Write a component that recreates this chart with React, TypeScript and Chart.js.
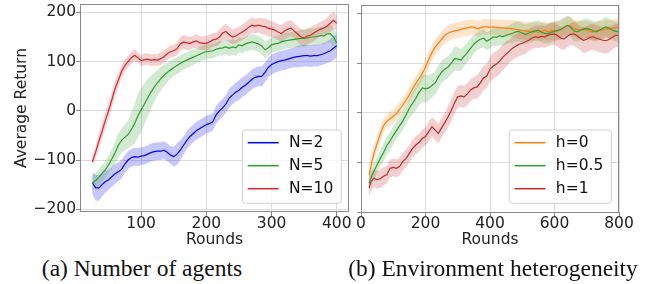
import React, { useEffect, useRef } from "react";
import { Chart, registerables } from "chart.js";
Chart.register(...registerables);

const FONT = "'DejaVu Sans', sans-serif";

// ---------- Left panel: number of agents ----------
const LEFT_ROUNDS = [25,30,35,40,45,50,55,60,65,70,75,80,85,90,95,100,105,110,115,120,125,130,135,140,145,150,155,160,165,170,175,180,185,190,195,200,205,210,215,220,225,230,235,240,245,250,255,260,265,270,275,280,285,290,295,300,305,310,315,320,325,330,335,340,345,350,355,360,365,370,375,380,385,390,395,400];

const N2_MEAN = [-146,-156,-157,-150,-144,-140,-134,-128,-124,-119,
  -108,-100,-95,-93,-94,-92,-91,-88,-85,-83,
  -82,-82,-80,-84,-90,-93,-88,-80,-70,-60,
  -52,-46,-40,-36,-32,-28,-26,-22,-8,0,
  6,14,26,32,38,42,48,52,58,64,
  68,70,70,78,88,94,97,100,102,103,
  105,107,109,110,111,112,112,111,112,112,
  114,116,119,122,127,132];
const N2_SPREAD = [22,26,26,24,22,20,20,20,19,19,
  18,18,18,18,18,18,18,18,18,18,
  18,18,18,18,18,20,22,20,18,18,
  18,18,18,18,18,18,18,18,18,18,
  18,18,19,19,19,20,20,20,20,20,
  20,20,20,20,20,20,20,20,20,20,
  20,20,20,22,22,22,22,22,22,22,
  22,22,22,23,24,24];

const N5_MEAN = [-147,-142,-135,-127,-120,-110,-98,-85,-70,-60,
  -54,-48,-38,-26,-10,2,14,26,38,48,
  57,65,72,78,83,88,92,96,100,103,
  106,109,112,115,118,120,121,122,125,127,
  128,130,127,130,128,134,132,136,138,140,
  138,136,132,124,128,134,136,137,140,142,
  143,144,145,146,147,147,148,150,150,151,
  153,152,156,157,150,138];
const N5_SPREAD = [14,15,16,17,18,18,20,22,24,25,
  26,28,34,40,44,45,42,38,34,30,
  26,24,22,20,18,18,17,17,16,16,
  16,16,15,15,15,15,15,15,15,15,
  15,15,16,16,16,15,15,15,16,16,
  16,16,17,17,16,16,16,16,16,16,
  16,16,16,17,17,17,17,17,18,18,
  18,18,18,18,18,18];

const N10_MEAN = [-104,-85,-62,-42,-20,0,22,45,62,80,
  92,100,108,113,108,102,104,105,103,104,
  103,106,110,116,120,122,126,136,140,138,
  137,140,142,138,137,137,140,144,145,150,
  158,161,155,150,152,156,160,164,170,174,
  172,174,172,171,168,166,164,160,157,162,
  166,168,162,156,150,148,152,154,158,162,
  166,168,172,178,184,178];
const N10_SPREAD = [10,12,14,15,16,16,16,15,14,13,
  12,12,12,12,11,11,12,12,12,12,
  12,13,13,12,12,12,13,14,14,14,
  13,13,14,14,14,15,15,14,14,15,
  15,16,16,15,15,15,16,16,16,16,
  15,15,16,17,17,16,16,16,17,17,
  17,16,16,16,17,17,16,16,16,15,
  15,16,17,18,17,16];

const LEFT_X_TICKS = [100, 200, 300, 400];
const Y_TICKS = [-200, -100, 0, 100, 200];

// ---------- Right panel: environment heterogeneity ----------
const RIGHT_ROUNDS = [25,30,40,50,60,70,80,90,100,110,120,130,140,150,160,170,180,190,200,210,220,230,240,250,260,270,280,290,300,310,320,330,340,350,360,370,380,390,400,410,420,430,440,450,460,470,480,490,500,510,520,530,540,550,560,570,580,590,600,610,620,630,640,650,660,670,680,690,700,710,720,730,740,750,760,770,780,790,800];

const H0_MEAN = [-125,
  -110,-82,-62,-42,-26,-17,-12,-7,-2,7,
  16,26,36,48,59,69,79,92,107,121,
  132,140,148,156,160,163,165,166,168,170,
  171,173,172,169,171,173,173,172,173,172,
  171,171,170,170,169,168,167,166,165,164,
  163,164,162,164,166,163,165,166,165,168,
  172,176,175,170,168,166,168,167,164,163,
  165,167,166,170,168,170,172,173];
const H0_SPREAD = [20,
  18,16,15,15,14,14,14,14,14,14,
  14,14,14,15,15,15,15,15,16,16,
  16,16,16,16,16,16,16,16,16,16,
  16,16,16,16,16,16,16,16,16,16,
  17,17,17,17,18,18,18,18,18,18,
  18,18,18,18,18,18,18,18,18,18,
  18,18,18,18,18,18,18,18,18,18,
  18,18,18,18,18,18,18,20];

const H05_MEAN = [-142,
  -133,-118,-105,-92,-80,-66,-57,-46,-36,-26,
  -16,-4,9,19,29,41,50,48,50,55,
  60,72,82,88,92,100,109,108,106,114,
  121,130,138,144,148,150,144,148,153,152,
  155,153,156,158,160,163,164,160,158,160,
  163,165,166,162,160,159,162,164,166,168,
  172,176,172,165,163,166,169,170,168,165,
  163,166,170,173,170,166,164,163];
const H05_SPREAD = [16,
  16,16,16,16,18,18,18,18,18,18,
  18,18,20,22,24,26,28,28,26,24,
  24,24,22,22,22,22,24,24,22,20,
  20,20,18,18,18,18,18,18,18,18,
  18,18,18,18,20,20,20,20,20,20,
  20,20,20,20,20,20,20,20,20,20,
  20,20,20,20,20,20,20,20,20,20,
  20,20,20,20,20,20,20,20];

const H1_MEAN = [-152,
  -140,-132,-135,-133,-128,-125,-112,-110,-112,-108,
  -98,-92,-82,-72,-65,-60,-52,-48,-38,-28,
  -35,-42,-30,-20,-8,5,20,32,34,32,
  38,46,50,52,60,70,74,88,94,98,
  104,112,118,124,130,134,138,140,143,146,
  150,153,152,154,153,156,158,159,155,150,
  149,154,158,159,155,150,146,148,152,153,
  150,148,146,145,148,152,156,155];
const H1_SPREAD = [18,
  18,18,18,18,18,18,18,18,18,18,
  18,18,18,18,18,18,18,18,20,20,
  20,20,20,20,22,22,22,22,22,22,
  22,22,22,24,24,24,24,25,26,26,
  26,26,26,24,24,24,24,24,24,22,
  22,22,22,22,22,22,22,22,22,22,
  22,22,22,24,24,24,26,26,26,26,
  26,26,26,26,26,24,24,22];

const RIGHT_X_TICKS = [0, 200, 400, 600, 800];

// ---------- helpers ----------
const fmt = (v: number) => String(v).replace("-", "\u2212");

function pts(xs: number[], ys: number[]) {
  return xs.map((x, i) => ({ x, y: ys[i] }));
}

type Series = { label: string; color: string; fill: string; mean: number[]; spread: number[] };

function buildDatasets(xs: number[], series: Series[]) {
  const bands: any[] = [];
  const lines: any[] = [];
  const n = series.length;
  series.forEach((s, k) => {
    const upper = s.mean.map((m, i) => m + s.spread[i]);
    const lower = s.mean.map((m, i) => m - s.spread[i]);
    bands.push({
      data: pts(xs, upper), borderWidth: 0, pointRadius: 0, fill: "+1",
      backgroundColor: s.fill, borderColor: "rgba(0,0,0,0)", order: 10 + (n - k),
    });
    bands.push({
      data: pts(xs, lower), borderWidth: 0, pointRadius: 0, fill: false,
      borderColor: "rgba(0,0,0,0)", order: 10 + (n - k),
    });
    lines.push({
      label: s.label, data: pts(xs, s.mean), borderColor: s.color, borderWidth: 1.2,
      pointRadius: 0, fill: false, order: n - k,
    });
  });
  return [...bands, ...lines];
}

const framePlugin = {
  id: "frame",
  afterDatasetsDraw(chart: any) {
    const { ctx, chartArea: a } = chart;
    ctx.save();
    ctx.strokeStyle = "#8a8a8a";
    ctx.lineWidth = 1;
    ctx.strokeRect(Math.round(a.left) + 0.5, Math.round(a.top) + 0.5, Math.round(a.right - a.left) - 1, Math.round(a.bottom - a.top) - 1);
    ctx.restore();
  },
};

const boxLegendPlugin = {
  id: "boxLegend",
  afterDraw(chart: any, _args: any, opts: any) {
    const items = opts.items as { label: string; color: string }[];
    if (!items) return;
    const { ctx, chartArea: a } = chart;
    ctx.save();
    ctx.font = `15.5px ${FONT}`;
    const tw = Math.max(...items.map((i) => ctx.measureText(i.label).width));
    const w = 46.6 + tw + 8;
    const h = 73.3;
    const right = a.right - 7.7;
    const bottom = a.bottom - 8.7;
    const left = right - w;
    const top = bottom - h;
    const r = 3;
    ctx.beginPath();
    ctx.moveTo(left + r, top);
    ctx.lineTo(right - r, top);
    ctx.quadraticCurveTo(right, top, right, top + r);
    ctx.lineTo(right, bottom - r);
    ctx.quadraticCurveTo(right, bottom, right - r, bottom);
    ctx.lineTo(left + r, bottom);
    ctx.quadraticCurveTo(left, bottom, left, bottom - r);
    ctx.lineTo(left, top + r);
    ctx.quadraticCurveTo(left, top, left + r, top);
    ctx.closePath();
    ctx.fillStyle = "rgba(255,255,255,0.8)";
    ctx.fill();
    ctx.strokeStyle = "#d0d0d0";
    ctx.lineWidth = 1;
    ctx.stroke();
    items.forEach((it, i) => {
      const y = top + 12.7 + i * 23;
      ctx.beginPath();
      ctx.strokeStyle = it.color;
      ctx.lineWidth = 1.5;
      ctx.moveTo(left + 5.3, y);
      ctx.lineTo(left + 36.3, y);
      ctx.stroke();
      ctx.fillStyle = "#111";
      ctx.textBaseline = "middle";
      ctx.textAlign = "left";
      ctx.fillText(it.label, left + 46.6, y + 0.5);
    });
    ctx.restore();
  },
};

function zeroPad(s: any) {
  s.paddingTop = 0; s.paddingBottom = 0; s.paddingLeft = 0; s.paddingRight = 0;
}

function makeConfig(p: {
  xs: number[]; series: Series[]; xmin: number; xmax: number; xticks: number[];
  ymin: number; ymax: number; yWidth: number; yLabels: boolean; yTitle?: string;
  xHeight: number; padding: any;
}) {
  const tickFont = { family: FONT, size: 15.5, lineHeight: 1 };
  const titleFont = { family: FONT, size: 15.5, lineHeight: 1.2 };
  return {
    type: "line" as const,
    data: { datasets: buildDatasets(p.xs, p.series) },
    options: {
      animation: false,
      responsive: false,
      maintainAspectRatio: false,
      devicePixelRatio: 1,
      layout: { padding: p.padding },
      plugins: {
        legend: { display: false },
        tooltip: { enabled: false },
        boxLegend: { items: p.series.map((s) => ({ label: s.label, color: s.color })) },
      },
      scales: {
        x: {
          type: "linear",
          min: p.xmin,
          max: p.xmax,
          afterBuildTicks: (s: any) => { s.ticks = p.xticks.map((v) => ({ value: v })); },
          afterFit: (s: any) => { s.height = p.xHeight; zeroPad(s); },
          ticks: { font: tickFont, color: "#222", padding: 0, maxRotation: 0, autoSkip: false, callback: (v: any) => fmt(v) },
          grid: { color: "#dcdcdc", lineWidth: 1, drawTicks: true, tickLength: 4, tickColor: "#8a8a8a" },
          border: { display: false },
          title: { display: true, text: "Rounds", font: titleFont, color: "#222", padding: { top: 0, bottom: 2.7 } },
        },
        y: {
          type: "linear",
          min: p.ymin,
          max: p.ymax,
          afterBuildTicks: (s: any) => { s.ticks = Y_TICKS.map((v) => ({ value: v })); },
          afterFit: (s: any) => { s.width = p.yWidth; zeroPad(s); },
          ticks: { display: p.yLabels, font: tickFont, color: "#222", padding: 0, callback: (v: any) => fmt(v) },
          grid: { color: "#dcdcdc", lineWidth: 1, drawTicks: true, tickLength: 4, tickColor: "#8a8a8a" },
          border: { display: false },
          title: { display: !!p.yTitle, text: p.yTitle || "", font: titleFont, color: "#222", padding: { top: 12.7, bottom: 0 } },
        },
      },
    },
    plugins: [framePlugin, boxLegendPlugin],
  };
}

function Panel(props: { left: number; width: number; height: number; config: any }) {
  const ref = useRef<HTMLCanvasElement | null>(null);
  useEffect(() => {
    if (!ref.current) return;
    const chart = new Chart(ref.current, props.config);
    return () => chart.destroy();
  }, []);
  return (
    <canvas
      ref={ref}
      width={props.width}
      height={props.height}
      style={{ position: "absolute", left: props.left, top: 0, width: props.width, height: props.height, display: "block" }}
    />
  );
}

export default function App() {
  const leftConfig = makeConfig({
    xs: LEFT_ROUNDS,
    series: [
      { label: "N=2", color: "#0000ff", fill: "rgba(0,0,255,0.22)", mean: N2_MEAN, spread: N2_SPREAD },
      { label: "N=5", color: "#2ca02c", fill: "rgba(44,160,44,0.22)", mean: N5_MEAN, spread: N5_SPREAD },
      { label: "N=10", color: "#d62728", fill: "rgba(214,39,40,0.22)", mean: N10_MEAN, spread: N10_SPREAD },
    ],
    xmin: 6.25, xmax: 418.75, xticks: LEFT_X_TICKS,
    ymin: -205.5, ymax: 217, yWidth: 80, yLabels: true, yTitle: "Average Return",
    xHeight: 40, padding: { left: 0, top: 4, right: 6, bottom: 0 },
  });
  const rightConfig = makeConfig({
    xs: RIGHT_ROUNDS,
    series: [
      { label: "h=0", color: "#ff7f0e", fill: "rgba(255,127,14,0.22)", mean: H0_MEAN, spread: H0_SPREAD },
      { label: "h=0.5", color: "#2ca02c", fill: "rgba(44,160,44,0.22)", mean: H05_MEAN, spread: H05_SPREAD },
      { label: "h=1", color: "#c8282a", fill: "rgba(200,40,42,0.22)", mean: H1_MEAN, spread: H1_SPREAD },
    ],
    xmin: 0, xmax: 800, xticks: RIGHT_X_TICKS,
    ymin: -200, ymax: 218, yWidth: 21, yLabels: false,
    xHeight: 40, padding: { left: 0, top: 4.5, right: 36, bottom: 0 },
  });
  const cap: React.CSSProperties = {
    position: "absolute", top: 256, fontFamily: "'Liberation Serif', serif", fontSize: 23.5,
    lineHeight: "24px", whiteSpace: "nowrap", transform: "translateX(-50%)", color: "#111",
  };
  return (
    <div style={{ position: "fixed", left: 0, top: 0, width: 655, height: 284, background: "#fff", overflow: "hidden" }}>
      <Panel left={0} width={355} height={252} config={leftConfig} />
      <Panel left={340} width={315} height={252} config={rightConfig} />
      <div style={{ ...cap, left: 142 }}>(a) Number of agents</div>
      <div style={{ ...cap, left: 493 }}>(b) Environment heterogeneity</div>
    </div>
  );
}
